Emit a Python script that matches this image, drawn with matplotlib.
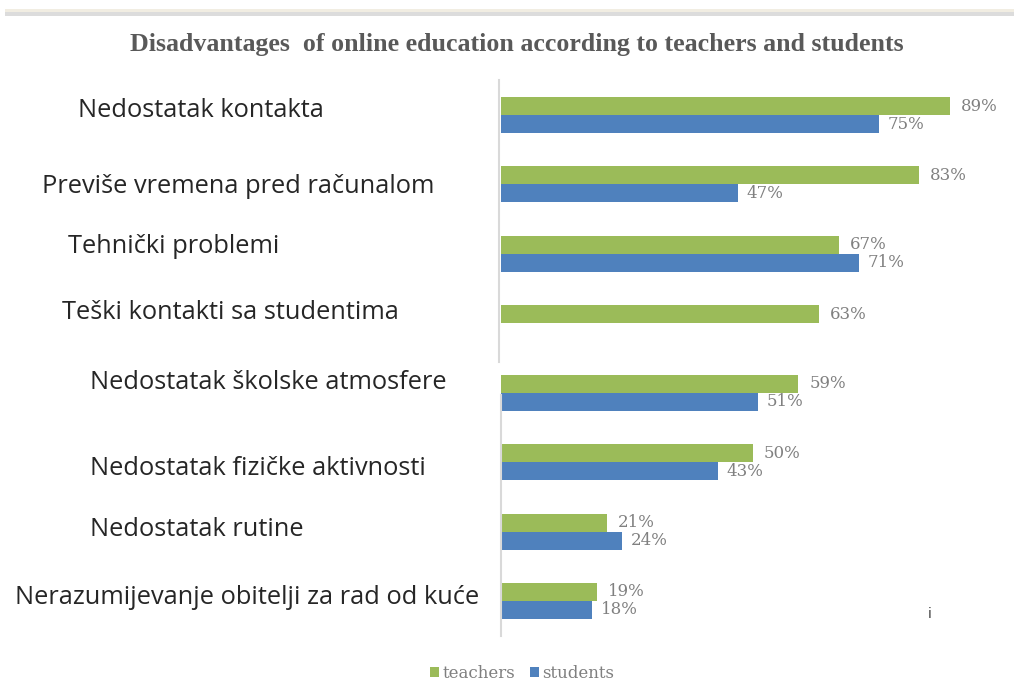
import matplotlib
matplotlib.use("Agg")
import matplotlib.pyplot as plt
from matplotlib.patches import Rectangle
import numpy as np

# ---- data ----
categories = [
    "Nedostatak kontakta",
    "Previše vremena pred računalom",
    "Tehnički problemi",
    "Teški kontakti sa studentima",
    "Nedostatak školske atmosfere",
    "Nedostatak fizičke aktivnosti",
    "Nedostatak rutine",
    "Nerazumijevanje obitelji za rad od kuće",
]
teachers = [89, 83, 67, 63, 59, 50, 21, 19]
students = [75, 47, 71, None, 51, 43, 24, 18]
series_names = ["teachers", "students"]
title = "Disadvantages  of online education according to teachers and students"

# ---- layout (pixel-based, for a 1014x684 canvas) ----
W, H = 1014, 684
DPI = 100
label_x_px = [78, 42, 68, 62, 90, 90, 90, 15]
label_dy_px = [-5, 2, -7, -11, -10, 6, -2, -3]

green = "#9BBB59"
blue = "#4F81BD"
val_color = "#808080"

fig = plt.figure(figsize=(W / DPI, H / DPI), dpi=DPI)
fig.patch.set_facecolor("white")

ax_left, ax_right = 501, 1005
ax_top, ax_bottom = 80.3, 635.7
ax = fig.add_axes([ax_left / W, 1 - ax_bottom / H,
                   (ax_right - ax_left) / W, (ax_bottom - ax_top) / H])

n = len(categories)
y = np.arange(n)
px_per_unit = (ax_bottom - ax_top) / n
h = 18 / px_per_unit

t_vals = np.array(teachers, dtype=float)
s_vals = np.array([np.nan if v is None else v for v in students], dtype=float)

ax.barh(y - h / 2, t_vals, height=h, color=green, label=series_names[0])
ax.barh(y + h / 2, np.nan_to_num(s_vals), height=h, color=blue, label=series_names[1])
ax.set_xlim(0, 100)
ax.set_ylim(n - 0.5, -0.5)
ax.axis("off")

# axis line with a gap
ax.axvline(0, ymin=0.0, ymax=0.434, color="#d9d9d9", lw=1.5, clip_on=False)
ax.axvline(-0.4, ymin=0.493, ymax=1.0, color="#d9d9d9", lw=1.5, clip_on=False)

# value labels
for i in range(n):
    ax.annotate(f"{teachers[i]:.0f}%", (t_vals[i], y[i] - h / 2),
                xytext=(11, 0), textcoords="offset pixels",
                ha="left", va="center", fontsize=12,
                family="DejaVu Serif", color=val_color)
    if not np.isnan(s_vals[i]):
        ax.annotate(f"{s_vals[i]:.0f}%", (s_vals[i], y[i] + h / 2),
                    xytext=(9, 0), textcoords="offset pixels",
                    ha="left", va="center", fontsize=12,
                    family="DejaVu Serif", color=val_color)

# category labels (fit font size to longest label width ~463 px)
fig.canvas.draw()
renderer = fig.canvas.get_renderer()
probe = fig.text(0, 0, categories[7], fontsize=16, family="Open Sans")
wpx = probe.get_window_extent(renderer).width
probe.remove()
cat_fs = 16 * 463 / wpx

for i, cat in enumerate(categories):
    cy_px = ax_top + (i + 0.5) * px_per_unit + label_dy_px[i]
    fig.text(label_x_px[i] / W, 1 - cy_px / H, cat, ha="left", va="center",
             fontsize=cat_fs, family="Open Sans", color="#262626")

# title
fig.text(517 / W, 1 - 45 / H, title, ha="center", va="center",
         fontsize=18.6, fontweight="bold", family="Liberation Serif",
         color="#595959")

# top band
fig.patches.append(Rectangle((5 / W, 1 - 12.5 / H), 1, 3.5 / H,
                             transform=fig.transFigure, color="#f1ede2", lw=0))
fig.patches.append(Rectangle((5 / W, 1 - 16 / H), 1, 3.5 / H,
                             transform=fig.transFigure, color="#dcdcdc", lw=0))

# stray "i"
fig.text(930 / W, 1 - 614 / H, "i", ha="center", va="center",
         fontsize=10, family="DejaVu Sans", color="#404040")

# legend
leg = fig.legend(loc="center", bbox_to_anchor=(522 / W, 1 - 673 / H), ncol=2,
                 frameon=False, handlelength=0.55, handleheight=0.55,
                 handletextpad=0.2, columnspacing=0.9,
                 prop={"family": "DejaVu Serif", "size": 12})
for t in leg.get_texts():
    t.set_color("#7f7f7f")

fig.savefig("out.png", dpi=DPI, facecolor="white")
